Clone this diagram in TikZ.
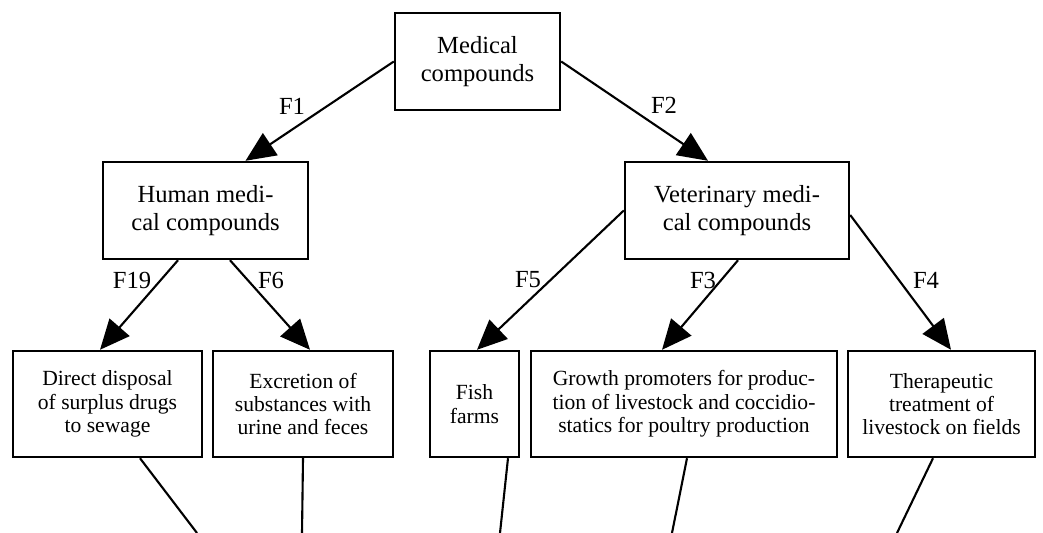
\documentclass[tikz,border=0pt]{standalone}
\usepackage{fontspec}
\setmainfont{Liberation Serif}
\usepackage{tikz}
\usetikzlibrary{arrows.meta, positioning}

\begin{document}
\begin{tikzpicture}[
  x=0.02cm, y=-0.02cm,
  box/.style={rectangle, draw, line width=1.4pt, align=center, inner sep=2pt},
  upper/.style={box, minimum height=1.94cm, font=\fontsize{14}{15.5}\selectfont},
  leaf/.style={box, minimum height=2.12cm, font=\fontsize{12.3}{13.3}\selectfont},
  arr/.style={-{Triangle[length=17pt, width=15pt]}, line width=1.2pt},
  ln/.style={line width=1.2pt},
  lbl/.style={font=\fontsize{14}{15}\selectfont, inner sep=0pt},
]
  \useasboundingbox (0,0) rectangle (1043,533);

  \node[upper, minimum width=3.30cm] (med) at (477.5,61.5) {Medical\\compounds};
  \node[upper, minimum width=4.10cm] (hum) at (205.5,210.5) {Human medi-\\cal compounds};
  \node[upper, minimum width=4.48cm] (vet) at (737,210.5) {Veterinary medi-\\cal compounds};

  \node[leaf, minimum width=3.78cm] (dir)  at (107.5,404) {Direct disposal\\of surplus drugs\\to sewage};
  \node[leaf, minimum width=3.60cm] (exc)  at (303,404)   {Excretion of\\substances with\\urine and feces};
  \node[leaf, minimum width=1.78cm] (fish) at (474.5,404) {Fish\\farms};
  \node[leaf, minimum width=6.12cm] (grow) at (684,404)   {Growth promoters for produc-\\tion of livestock and coccidio-\\statics for poultry production};
  \node[leaf, minimum width=3.74cm] (ther) at (941.5,404) {Therapeutic\\treatment of\\livestock on fields};

  \draw[arr] (med.west) -- ([xshift=0.80cm]hum.north);
  \draw[arr] (med.east) -- ([xshift=-0.58cm]vet.north);
  \draw[arr] ([xshift=-0.55cm]hum.south) -- ([xshift=-0.15cm]dir.north);
  \draw[arr] ([xshift=0.49cm]hum.south) -- ([xshift=0.14cm]exc.north);
  \draw[arr] (vet.west) -- ([xshift=0.05cm]fish.north);
  \draw[arr] ([xshift=0.02cm]vet.south) -- ([xshift=-0.44cm]grow.north);
  \draw[arr] ([yshift=-0.09cm]vet.east) -- ([xshift=0.19cm]ther.north);

  \node[lbl] (f1)  at (292,106) {F1};
  \node[lbl] (f2)  at (664,105) {F2};
  \node[lbl] (f19) at (132,280) {F19};
  \node[lbl] (f6)  at (271,280) {F6};
  \node[lbl] (f5)  at (528,280) {F5};
  \node[lbl] (f3)  at (703,280) {F3};
  \node[lbl] (f4)  at (926,280) {F4};

  % lines running on below the picture
  \coordinate (dirout)  at (197,533);
  \coordinate (excout)  at (302,533);
  \coordinate (fishout) at (500,533);
  \coordinate (growout) at (672,533);
  \coordinate (therout) at (897,533);
  \draw[ln] ([xshift=0.65cm]dir.south) -- (dirout);
  \draw[ln] (exc.south) -- (excout);
  \draw[ln] ([xshift=0.67cm]fish.south) -- (fishout);
  \draw[ln] ([xshift=0.06cm]grow.south) -- (growout);
  \draw[ln] ([xshift=-0.17cm]ther.south) -- (therout);
\end{tikzpicture}
\end{document}
